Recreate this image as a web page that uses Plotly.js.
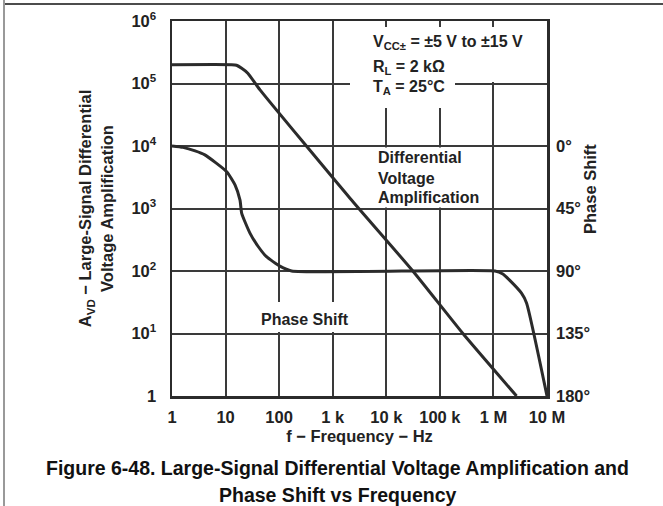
<!DOCTYPE html>
<html>
<head>
<meta charset="utf-8">
<script src="https://cdn.plot.ly/plotly-3.0.1.min.js"></script>
<style>html,body{margin:0;padding:0;background:#fff;}#chart{width:663px;height:506px;}</style>
</head>
<body>
<div id="chart"></div>
<script>
// ---- data ----
const freqGain = [1, 13, 16, 20, 26, 44, 2100, 31300, 269000, 2.7e6];
const gainAVD  = [2e5, 2e5, 1.96e5, 1.75e5, 1.46e5, 7.9e4, 1460, 100, 10, 1];

const freqPhase = [1, 1.6, 2.7, 4.1, 10.5, 15, 18.6, 20, 28.5, 40, 58, 103, 171, 1.07e6, 1.5e6, 2.0e6, 3.34e6, 4.15e6, 1e7];
const phaseDeg  = [0, 1, 3.5, 6.4, 18.5, 28, 39, 48.5, 62.7, 72, 79.7, 86.5, 90, 90, 92.2, 96.6, 106, 113, 180];

const freqTicks  = [1, 10, 100, 1e3, 1e4, 1e5, 1e6, 1e7];
const freqLabels = ['1', '10', '100', '1 k', '10 k', '100 k', '1 M', '10 M'];
const gainTicks  = [1, 10, 100, 1e3, 1e4, 1e5, 1e6];
const gainLabels = ['1', '10<sup>1</sup>', '10<sup>2</sup>', '10<sup>3</sup>', '10<sup>4</sup>', '10<sup>5</sup>', '10<sup>6</sup>'];
const phaseTicks  = [0, 45, 90, 135, 180];
const phaseLabels = ['0°', '45°', '90°', '135°', '180°'];

// ---- layout helpers (pixel -> paper) ----
const L = 172, R = 547, T = 21, B = 396;
const PX = p => (p - L) / (R - L);
const PY = p => (B - p) / (B - T);
const FONT = 'Liberation Sans, Arial, Helvetica, sans-serif';
const INK = '#2b2b2b';
const GRID = '#3a3a3a';

const traces = [
  { x: freqGain, y: gainAVD, type: 'scatter', mode: 'lines', name: 'Differential Voltage Amplification',
    line: { color: INK, width: 3, shape: 'spline', smoothing: 0.5 }, xaxis: 'x', yaxis: 'y', hoverinfo: 'x+y' },
  { x: freqPhase, y: phaseDeg, type: 'scatter', mode: 'lines', name: 'Phase Shift',
    line: { color: INK, width: 3, shape: 'spline', smoothing: 0.5 }, xaxis: 'x', yaxis: 'y2', hoverinfo: 'x+y' }
];

const tickFont = { family: FONT, size: 16.5, color: '#222', weight: 'bold' };
const txtFont = { family: FONT, size: 16, color: '#222', weight: 'bold' };
const titleFont = { family: FONT, size: 16.5, color: '#222', weight: 'bold' };
const capFont = { family: FONT, size: 19.5, color: '#111', weight: 'bold' };

function whiteBox(x0, y0, x1, y1) {
  return { type: 'rect', xref: 'paper', yref: 'paper', x0: PX(x0), x1: PX(x1), y0: PY(y1), y1: PY(y0),
           fillcolor: '#ffffff', line: { width: 0 }, layer: 'above' };
}
function note(text, px, py, extra) {
  return Object.assign({ text: text, xref: 'paper', yref: 'paper', x: PX(px), y: PY(py),
    xanchor: 'left', yanchor: 'middle', showarrow: false, align: 'left', font: txtFont }, extra || {});
}

const layout = {
  width: 663, height: 506,
  margin: { l: L, r: 663 - R, t: T, b: 506 - B, pad: 0 },
  paper_bgcolor: '#ffffff', plot_bgcolor: 'rgba(0,0,0,0)',
  showlegend: false,
  xaxis: {
    type: 'log', range: [0, 7], tickmode: 'array', tickvals: freqTicks, ticktext: freqLabels,
    showgrid: true, gridcolor: GRID, gridwidth: 2, zeroline: false,
    showline: true, mirror: true, linecolor: INK, linewidth: 2.5,
    ticks: '', ticklabelstandoff: 5, tickfont: tickFont,
    title: { text: 'f − Frequency − Hz', font: titleFont, standoff: 5 }
  },
  yaxis: {
    type: 'log', range: [0, 6], tickmode: 'array', tickvals: gainTicks, ticktext: gainLabels,
    showgrid: true, gridcolor: GRID, gridwidth: 2, zeroline: false,
    showline: true, mirror: true, linecolor: INK, linewidth: 2.5,
    ticks: '', ticklabelstandoff: 10, tickfont: tickFont,
    title: { text: 'A<sub>VD</sub> − Large-Signal Differential<br>Voltage Amplification',
             font: titleFont, standoff: 14 }
  },
  yaxis2: {
    overlaying: 'y', side: 'right', range: [180, -90], tickmode: 'array',
    tickvals: phaseTicks, ticktext: phaseLabels, showgrid: false, zeroline: false, showline: false,
    ticks: '', ticklabelstandoff: 8, tickfont: tickFont
  },
  shapes: [
    // white backgrounds behind in-plot labels (interrupt the grid like the original)
    whiteBox(370, 27, 530, 55),
    whiteBox(370, 55, 500, 82),
    whiteBox(350, 76, 455, 108),
    whiteBox(374, 147.5, 462, 207.5),
    whiteBox(255, 302, 355, 332),
    // page frame lines
    { type: 'line', xref: 'paper', yref: 'paper', x0: PX(4), x1: PX(663), y0: PY(4), y1: PY(4),
      line: { color: '#111', width: 1.5 } },
    { type: 'line', xref: 'paper', yref: 'paper', x0: PX(4), x1: PX(4), y0: PY(0), y1: PY(506),
      line: { color: '#999', width: 2 } }
  ],
  annotations: [
    note('V<sub>CC±</sub> = ±5 V to ±15 V', 371, 43),
    note('R<sub>L</sub> = 2 kΩ', 371, 67),
    note('T<sub>A</sub> = 25°C', 371, 88),
    note('Differential', 376, 158),
    note('Voltage', 376, 178),
    note('Amplification', 376, 197),
    note('Phase Shift', 305, 319, { xanchor: 'center' }),
    note('Phase Shift', 590, 189, { xanchor: 'center', textangle: -90, font: titleFont }),
    note('Figure 6-48. Large-Signal Differential Voltage Amplification and', 337, 468,
         { xanchor: 'center', font: capFont }),
    note('Phase Shift vs Frequency', 337, 495, { xanchor: 'center', font: capFont })
  ]
};

Plotly.newPlot('chart', traces, layout, { staticPlot: true, displayModeBar: false });
</script>
</body>
</html>
